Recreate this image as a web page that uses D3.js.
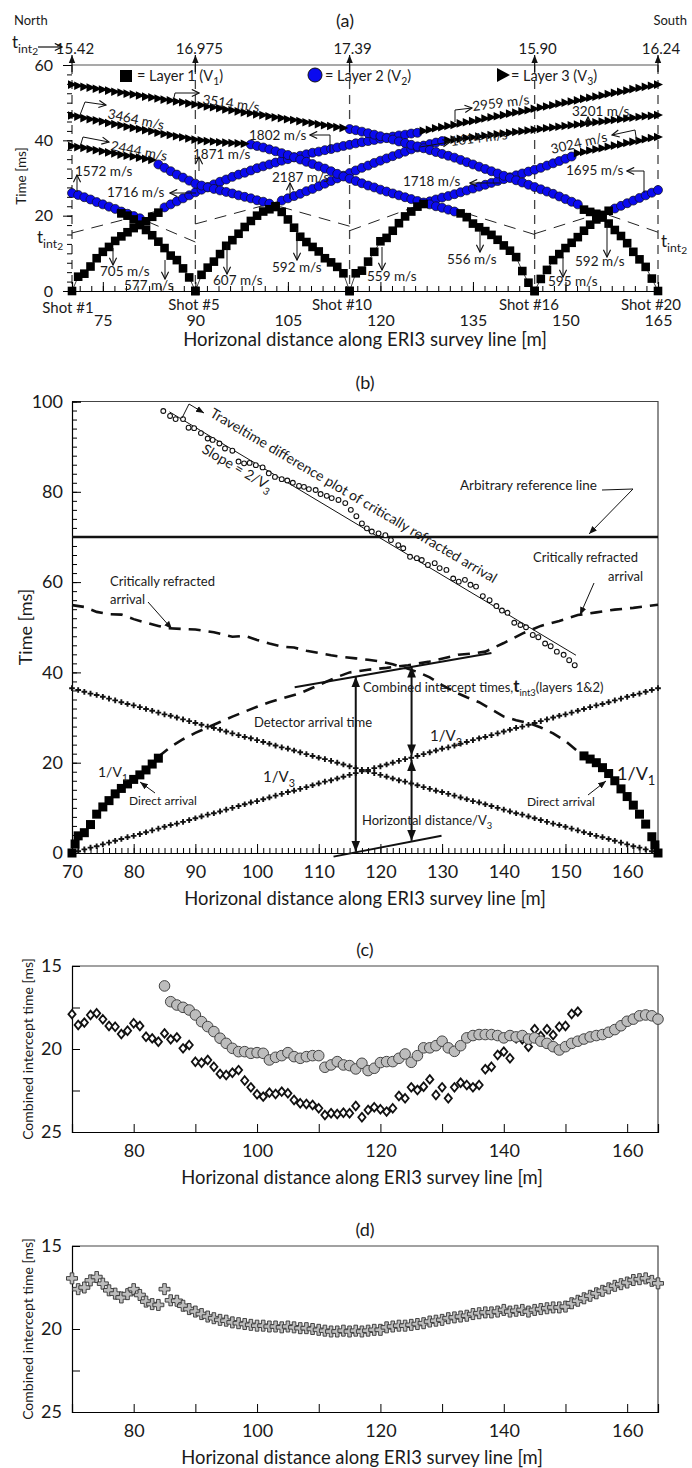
<!DOCTYPE html>
<html><head><meta charset="utf-8">
<script src="https://cdn.jsdelivr.net/npm/d3@7/dist/d3.min.js"></script>
<style>
html,body{margin:0;padding:0;background:#fff;}
svg{display:block;}
text{font-family:Lato,"Open Sans","Noto Sans",sans-serif;fill:#1a1a1a;}
</style></head><body>
<svg id="chart" width="692" height="1468"></svg>
<script>
// receiver stations are 1 m apart
const stations = (x0, ts) => ts.map((t, i) => [x0 + i, t]);

// ================= Panel (a) data =================
const aShots = [70, 90, 115, 145, 165];
const aShotNames = ["Shot #1", "Shot #5", "Shot #10", "Shot #16", "Shot #20"];
const aTint2 = ["15.42", "16.975", "17.39", "15.90", "16.24"];
const aXTicks = [75, 90, 105, 120, 135, 150, 165];
const aYTicks = [0, 20, 40, 60];

// Layer 1 (direct arrivals, squares)
const aL1_s1R  = stations(70,  [0,3.8,4.6,6.5,8.7,10.4,11.7,13.3,14.5,15.6,16.7,17.6,18.5,19.7,20.8]);
const aL1_s5L  = stations(78,  [20.6,20.0,19.0,17.5,16.2,14.8,13.1,11.4,9.4,8.2,6.0,3.6,0]);
const aL1_s5R  = stations(90,  [0,4.3,6.2,7.8,9.8,12.0,13.5,15.2,17.0,18.6,20.0,21.1,21.7,22.3]);
const aL1_s10L = stations(103, [22.5,21.0,19.0,16.8,14.4,13.0,11.7,10.5,8.7,7.6,6.4,4.7,0]);
const aL1_s10R = stations(115, [0,4.7,5.4,7.8,10.4,13.2,14.1,16.0,18.0,19.8,21.1,22.4,23.1]);
const aL1_s16L = stations(133, [20.6,19.6,17.9,16.9,15.9,14.9,13.6,12.1,10.7,9.0,5.3,2.2,0]);
const aL1_s16R = stations(145, [0,3.2,5.6,8.2,9.8,11.4,12.8,14.3,16.0,17.6,19.0,20.2,21.3]);
const aL1_s20L = stations(153, [21.6,21.0,20.5,19.5,17.9,16.2,14.6,12.7,10.4,8.4,6.4,3.3,0]);

// Layer 2 (blue circles)
const aL2_s1R  = stations(85,  [22.2,23.0,23.8,24.6,25.4,26.2,26.9,27.6,28.3,29.0,29.6,30.3,30.9,31.4,32.0,32.6,33.1,33.6,34.1,34.6,35.0,35.5,35.9,36.3,36.7,37.0,37.4,37.7,38.1,38.5,38.8,39.2,39.5,39.8,40.1,40.4,40.7,41.0,41.3,41.5,41.8,42.0]);
const aL2_s5L  = stations(70,  [26.0,25.5,24.9,24.3,23.6,23.0,22.4,21.8,21.1,20.5,19.9,19.3]);
const aL2_s5R  = stations(104, [24.0,24.6,25.2,25.8,26.5,27.1,27.8,28.5,29.2,29.9,30.6,31.3,32.0,32.7,33.3,34.0,34.6,35.2,35.8,36.4,37.0,37.6,38.1,38.6,39.0,39.4,39.8]);
const aL2_s10L = stations(84,  [33.6,32.7,31.8,30.9,30.1,29.3,28.5,28.0,27.5,27.1,26.7,26.3,25.9,25.4,25.0,24.6,24.1,23.7,23.2]);
const aL2_s10R = stations(128, [23.8,24.3,24.8,25.2,25.7,26.2,26.7,27.2,27.7,28.2,28.7,29.2,29.7,30.2,30.7,31.2,31.7,32.2,32.7,33.3,33.9,34.5,35.1,35.7]);
const aL2_s16L = stations(99,  [38.9,38.5,38.1,37.6,37.1,36.6,36.1,35.5,34.9,34.3,33.7,33.1,32.5,31.8,31.1,30.4,29.8,29.2,28.6,28.0,27.5,26.9,26.4,25.9,25.4,24.9,24.4,23.9,23.5,23.0,22.5,22.1,21.6,21.1]);
const aL2_s16R = stations(158, [21.9,22.6,23.3,24.0,24.7,25.4,26.1,26.8]);
const aL2_s20L = stations(115, [43.0,42.7,42.3,41.9,41.5,41.1,40.6,40.2,39.7,39.3,38.8,38.4,37.9,37.4,36.9,36.4,35.9,35.4,34.8,34.2,33.6,33.0,32.4,31.8,31.2,30.6,30.0,29.4,28.8,28.2,27.6,27.0,26.4,25.8,25.1,24.4,23.7,23.0]);

// Layer 3 (triangles)
const aL3_s1R  = stations(127, [42.5,42.8,43.2,43.5,43.8,44.1,44.5,44.8,45.1,45.4,45.8,46.1,46.4,46.7,47.1,47.4,47.7,48.0,48.4,48.7,49.0,49.3,49.7,50.0,50.3,50.6,51.0,51.3,51.6,51.9,52.3,52.6,52.9,53.2,53.6,53.9,54.2,54.5,54.8]);
const aL3_s5R  = stations(131, [40.0,40.2,40.4,40.6,40.8,41.0,41.2,41.4,41.6,41.8,42.0,42.2,42.4,42.6,42.8,43.0,43.2,43.4,43.6,43.8,44.0,44.2,44.4,44.6,44.8,45.0,45.2,45.4,45.6,45.8,46.0,46.2,46.4,46.5,46.7]);
const aL3_s10R = stations(152, [36.6,36.9,37.3,37.6,37.9,38.3,38.6,38.9,39.3,39.6,39.9,40.3,40.6,40.9]);
const aL3_s10L = stations(70,  [38.5,38.2,38.0,37.7,37.4,37.1,36.8,36.5,36.2,35.9,35.7,35.4,35.1,34.8]);
const aL3_s16L = stations(70,  [46.6,46.3,45.9,45.6,45.3,45.0,44.6,44.3,44.0,43.6,43.3,43.0,42.7,42.4,42.0,41.7,41.4,41.1,40.8,40.5,40.2,40.0,39.8,39.7,39.5,39.4,39.3,39.2,39.1]);
const aL3_s20L = stations(70,  [54.8,54.5,54.2,54.0,53.7,53.5,53.2,52.9,52.7,52.4,52.2,51.9,51.6,51.4,51.1,50.8,50.6,50.3,50.1,49.8,49.5,49.3,49.0,48.8,48.5,48.2,48.0,47.7,47.4,47.2,46.9,46.7,46.4,46.1,45.9,45.6,45.4,45.1,44.8,44.6,44.3,44.0,43.8,43.5,43.3]);

// t_int2 extrapolation lines (dashed)
const aTintLines = [
  [[70,15.4],[84,21.3]], [[90,13.0],[81,19.3]], [[90,17.8],[104,24.0]], [[115,17.2],[102,23.2]],
  [[115,16.0],[128,23.8]], [[145,15.0],[132,21.6]], [[145,15.2],[158,21.9]], [[165,15.6],[152,23.0]]
];

// ================= Panel (b) data =================
const bXTicks = [70, 80, 90, 100, 110, 120, 130, 140, 150, 160];
const bYTicks = [0, 20, 40, 60, 80, 100];
const bDirectL = [[70,0],[70.5,2.0],[71,3.8],[72,4.5],[73,6.3],[74,8.6],[75,10.2],[76,11.6],[77,13.1],[78,14.3],[79,15.3],[80,16.3],[81,17.3],[82,18.4],[83,19.7],[84,21.0]];
const bDirectR = [[153,21.5],[154,20.8],[155,20.0],[156,18.9],[157,17.6],[158,16.0],[159,14.2],[160,12.5],[161,10.6],[162,8.6],[163,6.4],[164,3.6],[164.5,1.8],[165,0]];
const bV3down = stations(70, [36.5,36.1,35.7,35.3,35.0,34.6,34.2,33.8,33.4,33.0,32.7,32.3,31.9,31.5,31.1,30.7,30.4,30.0,29.6,29.2,28.8,28.4,28.0,27.7,27.3,26.9,26.5,26.1,25.7,25.4,25.0,24.6,24.2,23.8,23.4,23.1,22.7,22.3,21.9,21.5,21.1,20.8,20.4,20.0,19.6,19.2,18.8,18.4,18.1,17.7,17.3,16.9,16.5,16.1,15.8,15.4,15.0,14.6,14.2,13.8,13.5,13.1,12.7,12.3,11.9,11.5,11.2,10.8,10.4,10.0,9.6,9.2,8.8,8.5,8.1,7.7,7.3,6.9,6.5,6.2,5.8,5.4,5.0,4.6,4.2,3.8,3.5,3.1,2.7,2.3,1.9,1.5,1.2,0.8,0.4,0.0]);
const bV3up = stations(70, [0.0,0.4,0.8,1.2,1.5,1.9,2.3,2.7,3.1,3.5,3.8,4.2,4.6,5.0,5.4,5.8,6.2,6.5,6.9,7.3,7.7,8.1,8.5,8.8,9.2,9.6,10.0,10.4,10.8,11.2,11.5,11.9,12.3,12.7,13.1,13.5,13.8,14.2,14.6,15.0,15.4,15.8,16.1,16.5,16.9,17.3,17.7,18.1,18.4,18.8,19.2,19.6,20.0,20.4,20.8,21.1,21.5,21.9,22.3,22.7,23.1,23.4,23.8,24.2,24.6,25.0,25.4,25.7,26.1,26.5,26.9,27.3,27.7,28.0,28.4,28.8,29.2,29.6,30.0,30.4,30.7,31.1,31.5,31.9,32.3,32.7,33.0,33.4,33.8,34.2,34.6,35.0,35.3,35.7,36.1,36.5]);
const bCritA = [[70,54.9],[72,54.5],[74,53.4],[76,52.9],[78,52.8],[80,51.8],[82,51.0],[84,50.3],[85.5,49.8],[88,49.6],[90,49.5],[93,48.9],[96,47.9],[98,48.1],[100,47.2],[102,46.4],[104,45.7],[106,45.5],[108,44.8],[110,44.3],[112,43.8],[114,43.4],[116,43.1],[118,42.8],[120,42.4],[122,41.8],[124,41.0],[126,40.1],[128,38.9],[130,37.2],[132,35.7],[134,34.5],[136,33.4],[138,31.8],[140,30.2],[142,29.4],[144,28.8],[146,27.8],[148,26.5],[150,24.8],[152,22.5],[153,21.5]];
const bCritB = [[84,21.3],[86,23.5],[88,25.2],[90,26.6],[92,27.8],[94,29.0],[96,30.2],[98,31.3],[100,32.4],[102,33.4],[104,34.2],[107,35.4],[110,37.2],[113,39.0],[115,40.0],[118,40.6],[121,41.0],[124.5,41.6],[128,42.4],[132.6,43.9],[135,44.2],[137,44.6],[140,46.5],[143,48.6],[146,50.3],[149,51.4],[152,52.7],[155,53.3],[158,53.9],[161,54.3],[165,55.0]];
const bDiff = [[84.8,97.9],[85.9,96.8],[86.8,96.1],[88.0,96.1],[88.9,94.2],[89.8,94.1],[90.9,93.0],[92.0,91.8],[92.8,91.5],[93.9,90.7],[94.8,89.6],[96.0,89.1],[97.0,86.7],[97.9,86.3],[98.8,86.4],[99.8,85.9],[100.9,85.4],[101.9,84.1],[102.9,83.3],[104.0,82.8],[104.9,82.5],[105.8,82.0],[106.8,81.3],[107.6,81.1],[108.4,80.6],[109.5,80.4],[110.3,79.5],[111.3,79.1],[112.1,78.6],[113.2,78.2],[114.3,77.5],[115.2,76.0],[116.1,74.6],[117.0,73.0],[117.8,71.9],[118.6,71.2],[119.7,70.8],[120.8,70.4],[121.7,69.3],[122.9,68.2],[123.7,67.5],[124.8,65.6],[125.9,65.3],[126.7,64.9],[127.7,63.8],[128.8,64.2],[129.6,63.1],[130.7,62.7],[131.8,60.8],[132.7,60.1],[133.7,60.5],[134.6,59.4],[135.5,59.0],[136.6,56.9],[137.7,56.0],[138.8,54.7],[139.7,53.7],[140.6,53.2],[141.7,51.0],[142.7,50.5],[143.6,50.0],[144.7,48.3],[145.6,47.8],[146.7,46.4],[147.6,45.8],[148.6,44.6],[149.7,43.9],[150.6,42.7],[151.5,41.6]];
const bDiffFit = [[85.8,97.7],[151.7,43.8]];
const bRefLine = [[70,70],[165,70]];
const bTangentTop = [[106.1,36.7],[138.0,44.3]];
const bTangentBot = [[112.4,-0.8],[129.9,3.8]];

// ================= Panel (c) data =================
const cXTicks = [80, 100, 120, 140, 160];
const cYTicks = [15, 20, 25];
const cCircles = stations(85, [16.2,17.15,17.35,17.49,17.65,17.95,18.35,18.65,18.95,19.35,19.66,19.96,20.16,20.16,20.26,20.22,20.26,20.66,20.5,20.4,20.22,20.46,20.56,20.46,20.4,20.4,21.1,20.96,20.76,20.96,21.0,21.2,20.86,21.3,21.16,20.82,20.76,20.76,20.56,20.3,20.8,20.4,19.93,19.93,19.8,19.53,19.93,20.14,19.8,19.33,19.19,19.13,19.13,19.13,19.19,19.33,19.19,19.27,19.19,19.4,19.33,19.53,19.66,19.86,20.06,19.86,19.66,19.53,19.4,19.27,19.19,19.13,18.99,18.83,18.6,18.33,18.2,18.0,17.95,18.0,18.2]);
const cDiamonds = stations(70, [17.9,18.55,18.41,17.95,17.85,18.21,18.61,18.66,19.1,18.9,18.45,18.61,19.26,19.36,19.56,19.06,19.42,19.3,19.96,19.76,20.77,20.83,20.66,21.07,21.5,21.57,21.43,21.27,21.9,22.31,22.73,22.87,22.63,22.71,22.57,22.67,23.07,23.27,23.31,23.37,23.57,23.98,23.87,23.92,23.84,23.87,23.43,24.11,23.67,23.51,23.63,23.77,23.57,22.83,22.97,22.31,22.47,22.27,21.83,22.77,22.31,22.97,22.31,22.03,22.17,22.31,22.17,21.22,21.07,20.36,20.16,20.56,19.36,19.42,19.86,18.81,19.22,18.81,19.16,18.66,18.61,17.89,17.75]);

// ================= Panel (d) data =================
const dCrosses = stations(70, [16.95,17.6,17.5,17.07,16.87,17.27,17.67,17.87,18.1,17.9,17.6,17.95,18.35,18.5,18.55,17.6,18.27,18.3,18.6,18.8,18.95,19.1,19.25,19.35,19.45,19.5,19.6,19.65,19.7,19.75,19.8,19.8,19.85,19.85,19.9,19.85,19.9,19.95,19.95,20.0,20.05,20.1,20.15,20.15,20.1,20.15,20.1,20.15,20.1,20.05,20.05,19.9,19.85,19.8,19.8,19.75,19.7,19.65,19.55,19.5,19.45,19.35,19.3,19.25,19.2,19.1,19.05,19.0,19.0,18.95,18.85,18.95,18.9,18.85,18.95,18.85,18.8,18.75,18.7,18.7,18.65,18.45,18.3,18.15,18.0,17.85,17.7,17.55,17.4,17.3,17.2,17.05,17.0,16.95,17.1,17.25]);

// ================= helpers =================
const svg = d3.select('#chart');
const defs = svg.append('defs');
function marker(id, size, open) {
  const m = defs.append('marker').attr('id', id).attr('viewBox', '0 0 10 10')
    .attr('refX', open ? 9 : 10).attr('refY', 5).attr('markerWidth', size).attr('markerHeight', size)
    .attr('markerUnits', 'userSpaceOnUse').attr('orient', 'auto-start-reverse');
  if (open) m.append('path').attr('d', 'M1,1L9,5L1,9').attr('fill', 'none').attr('stroke', '#111').attr('stroke-width', 1.3);
  else m.append('path').attr('d', 'M0,1L10,5L0,9z').attr('fill', '#111');
}
marker('open', 9, true); marker('fill', 8, false); marker('big', 11, false);

function path(g, pts, o = {}) {
  const p = g.append('path').attr('d', d3.line()(pts)).attr('fill', 'none')
    .attr('stroke', o.color || '#111').attr('stroke-width', o.w || 1);
  if (o.dash) p.attr('stroke-dasharray', o.dash);
  if (o.end) p.attr('marker-end', `url(#${o.end})`);
  if (o.start) p.attr('marker-start', `url(#${o.start})`);
  return p;
}
function label(g, x, y, parts, size, o = {}) {
  const t = g.append('text').attr('font-size', size);
  if (o.transform) t.attr('transform', o.transform); else t.attr('x', x).attr('y', y);
  if (o.anchor) t.attr('text-anchor', o.anchor);
  let shift = 0;
  parts.forEach(p => {
    const [s, k] = Array.isArray(p) ? p : [p];
    const ts = t.append('tspan').text(s);
    if (k === 'sub') { const d = size * 0.3; ts.attr('font-size', size * 0.72).attr('dy', d - shift); shift = d; }
    else if (k === 'sub2') { const d = size * 0.42; ts.attr('font-size', size * 0.6).attr('dy', d - shift); shift = d; }
    else {
      if (shift) { ts.attr('dy', -shift); shift = 0; }
      if (k === 'bold') ts.attr('font-weight', 'bold').attr('font-size', size * 1.3);
    }
  });
  return t;
}
function fitWidth(sel, w) {
  const L = sel.node().getComputedTextLength();
  if (L > 0) sel.attr('font-size', parseFloat(sel.attr('font-size')) * w / L);
}
const XTITLE = 'Horizonal distance along ERI3 survey line [m]';

// ================= Panel (a) =================
const xA = d3.scaleLinear().domain([70, 165]).range([72, 658]);
const yA = d3.scaleLinear().domain([0, 60]).range([291, 65]);
const gA = svg.append('g');

label(gA, 14, 25, ['North'], 13);
label(gA, 687, 25, ['South'], 13, {anchor: 'end'});
label(gA, 345, 27, ['(a)'], 18, {anchor: 'middle'});

// vertical dashed shot lines
aShots.forEach(s => path(gA, [[xA(s), yA(60)], [xA(s), yA(0)]], {dash: '9,6', w: 1.3, color: '#444'}));
path(gA, [[xA(70), yA(60)], [xA(165), yA(60)]], {w: 1.2, color: '#555'});

// left axis ticks + labels
const aYax = gA.append('g').attr('transform', `translate(${xA(70)},0)`)
  .call(d3.axisLeft(yA).tickValues(aYTicks).tickSize(9).tickPadding(10));
aYax.select('.domain').remove();
aYax.selectAll('text').attr('font-size', 16);
const aYmin = gA.append('g').attr('transform', `translate(${xA(70)},0)`)
  .call(d3.axisLeft(yA).tickValues(d3.range(0, 60.1, 2.5)).tickSize(5).tickFormat(''));
aYmin.select('.domain').remove();

// bottom axis
const aXax = gA.append('g').attr('transform', `translate(0,${yA(0)})`)
  .call(d3.axisBottom(xA).tickValues(aXTicks).tickSize(-9).tickPadding(24));
aXax.selectAll('text').attr('font-size', 16);
aXax.select('.domain').attr('stroke-width', 1.2);
gA.append('g').attr('transform', `translate(0,${yA(0)})`)
  .call(d3.axisBottom(xA).tickValues(d3.range(71.25, 165, 1.875)).tickSize(-5).tickFormat(''))
  .select('.domain').remove();

// shot labels
const shotLX = [68, 194, 342, 529, 651];
aShotNames.forEach((n, i) => label(gA, shotLX[i], i === 0 ? 312.5 : 310, [n], 15, {anchor: 'middle'}));
fitWidth(label(gA, 365, 346, [XTITLE], 17, {anchor: 'middle'}), 364);
label(gA, 0, 0, ['Time [ms]'], 13.5, {anchor: 'middle', transform: 'translate(26,176) rotate(-90)'});

// top t_int2 arrows and values
aShots.forEach((s, i) => {
  path(gA, [[xA(s), 72], [xA(s), 55]], {end: 'fill', w: 1.2});
  label(gA, xA(s) + (i === 1 ? 4 : 3), 54, [aTint2[i]], 15, {anchor: 'middle'});
});
label(gA, 12, 48, [['t'], ['int', 'sub'], ['2', 'sub2']], 17);
path(gA, [[38, 47], [62, 47]], {end: 'open', w: 1.2});

// t_int2 dashed lines
aTintLines.forEach(l => path(gA, l.map(d => [xA(d[0]), yA(d[1])]), {dash: '12,8', w: 1, color: '#222'}));
label(gA, 37, 243, [['t'], ['int', 'sub'], ['2', 'sub2']], 17);
label(gA, 661, 247, [['t'], ['int', 'sub'], ['2', 'sub2']], 17);

// series
const aLine = d3.line().x(d => xA(d[0])).y(d => yA(d[1]));
const L2segs = [aL2_s1R, aL2_s5L, aL2_s5R, aL2_s10L, aL2_s10R, aL2_s16L, aL2_s16R, aL2_s20L];
const L3segs = [aL3_s1R, aL3_s5R, aL3_s10R, aL3_s10L, aL3_s16L, aL3_s20L];
const L1segs = [aL1_s1R, aL1_s5L, aL1_s5R, aL1_s10L, aL1_s10R, aL1_s16L, aL1_s16R, aL1_s20L];
[...L2segs, ...L3segs, ...L1segs].forEach(s => gA.append('path').attr('d', aLine(s)).attr('fill', 'none').attr('stroke', '#111').attr('stroke-width', 0.8));
L2segs.forEach(s => gA.append('g').selectAll('circle').data(s).join('circle')
  .attr('cx', d => xA(d[0])).attr('cy', d => yA(d[1])).attr('r', 4.5)
  .attr('fill', '#0a0af0').attr('stroke', '#111').attr('stroke-width', 0.7));
L3segs.forEach(s => gA.append('g').selectAll('path').data(s).join('path')
  .attr('transform', d => `translate(${xA(d[0])},${yA(d[1])})`).attr('d', 'M-4,-4.3L5,0L-4,4.3Z').attr('fill', '#000'));
L1segs.forEach(s => gA.append('g').selectAll('rect').data(s).join('rect')
  .attr('x', d => xA(d[0]) - 4.3).attr('y', d => yA(d[1]) - 4.3).attr('width', 8.6).attr('height', 8.6).attr('fill', '#000'));

// legend
gA.append('rect').attr('x', 120).attr('y', 70).attr('width', 12).attr('height', 12).attr('fill', '#000');
label(gA, 137, 81, ['= Layer 1 (V', ['1', 'sub'], ')'], 14.5);
gA.append('circle').attr('cx', 315).attr('cy', 75).attr('r', 7).attr('fill', '#0a0af0').attr('stroke', '#111');
label(gA, 325, 81, ['= Layer 2 (V', ['2', 'sub'], ')'], 14.5);
gA.append('path').attr('d', 'M497,68L510,75L497,82Z').attr('fill', '#000');
label(gA, 511, 81, ['= Layer 3 (V', ['3', 'sub'], ')'], 14.5);

// velocity annotations
const vs = 13.5;
label(gA, 0, 0, ['3514 m/s'], vs, {transform: 'translate(202,104) rotate(8)'});
path(gA, [[173, 102], [175, 93], [199, 93]], {end: 'open'});
label(gA, 0, 0, ['3464 m/s'], vs, {transform: 'translate(107,118) rotate(12)'});
path(gA, [[80, 115], [85, 102], [106, 105]], {end: 'open'});
label(gA, 0, 0, ['2444 m/s'], vs, {transform: 'translate(110,150) rotate(11)'});
path(gA, [[80, 147], [83, 137], [109, 142]], {end: 'open'});
label(gA, 249, 140, ['1802 m/s'], vs);
path(gA, [[330, 152], [330, 135], [310, 135]], {end: 'open'});
label(gA, 193, 159, ['1871 m/s'], vs);
path(gA, [[199, 171], [199, 157]], {end: 'open'});
label(gA, 75, 176, ['1572 m/s'], vs);
path(gA, [[77, 192], [77, 175]], {end: 'open'});
label(gA, 107, 197, ['1716 m/s'], vs);
path(gA, [[196, 193], [170, 193]], {end: 'open'});
label(gA, 272, 182, ['2187 m/s'], vs);
path(gA, [[290, 199], [290, 183]], {end: 'open'});
label(gA, 100, 276, ['705 m/s'], vs);
path(gA, [[113, 248], [113, 265]], {end: 'open'});
label(gA, 124, 290, ['577 m/s'], vs);
path(gA, [[165, 260], [165, 279]], {end: 'open'});
label(gA, 213, 285, ['607 m/s'], vs);
path(gA, [[227, 243], [227, 274]], {end: 'open'});
label(gA, 272, 272, ['592 m/s'], vs);
path(gA, [[297, 228], [297, 260]], {end: 'open'});
label(gA, 367, 281, ['559 m/s'], vs);
path(gA, [[382, 247], [382, 270]], {end: 'open'});
label(gA, 447, 264, ['556 m/s'], vs);
path(gA, [[480, 230], [480, 252]], {end: 'open'});
label(gA, 548, 286, ['595 m/s'], vs);
path(gA, [[563, 257], [563, 277]], {end: 'open'});
label(gA, 575, 266, ['592 m/s'], vs);
path(gA, [[607, 223], [607, 257]], {end: 'open'});
label(gA, 403, 186, ['1718 m/s'], vs);
path(gA, [[500, 183], [470, 183]], {end: 'open'});
label(gA, 566, 175, ['1695 m/s'], vs);
path(gA, [[644, 193], [644, 171], [627, 171]], {end: 'open'});
label(gA, 0, 0, ['2959 m/s'], vs, {transform: 'translate(473,111) rotate(-7)'});
path(gA, [[455, 122], [455, 110], [472, 108]], {end: 'open'});
label(gA, 0, 0, ['1614 m/s'], vs, {transform: 'translate(451,146) rotate(-7)'});
path(gA, [[420, 147], [450, 142]], {end: 'open'});
label(gA, 572, 116, ['3201 m/s'], vs);
path(gA, [[588, 127], [588, 117]], {end: 'open'});
label(gA, 0, 0, ['3024 m/s'], vs, {transform: 'translate(552,154) rotate(-13)'});
path(gA, [[637, 143], [635, 130], [612, 135]], {end: 'open'});

// ================= Panel (b) =================
const xB = d3.scaleLinear().domain([70, 165]).range([72, 658]);
const yB = d3.scaleLinear().domain([0, 100]).range([853, 401.5]);
const gB = svg.append('g');
label(gB, 365, 389, ['(b)'], 18, {anchor: 'middle'});
path(gB, [[xB(70), yB(100)], [xB(165), yB(100)], [xB(165), yB(0)]], {w: 1.2, color: '#444'});
const bYax = gB.append('g').attr('transform', `translate(${xB(70)},0)`)
  .call(d3.axisLeft(yB).tickValues(bYTicks).tickSize(-9).tickPadding(9));
bYax.selectAll('text').attr('font-size', 18);
bYax.select('.domain').attr('stroke-width', 1.2);
gB.append('g').attr('transform', `translate(${xB(70)},0)`)
  .call(d3.axisLeft(yB).tickValues(d3.range(0, 100.1, 2)).tickSize(-5).tickFormat('')).select('.domain').remove();
const bXax = gB.append('g').attr('transform', `translate(0,${yB(0)})`)
  .call(d3.axisBottom(xB).tickValues(bXTicks).tickSize(-9).tickPadding(12));
bXax.selectAll('text').attr('font-size', 18);
bXax.select('.domain').attr('stroke-width', 1.2);
gB.append('g').attr('transform', `translate(0,${yB(0)})`)
  .call(d3.axisBottom(xB).tickValues(d3.range(70, 165.1, 1)).tickSize(-5).tickFormat('')).select('.domain').remove();
fitWidth(label(gB, 365, 905, [XTITLE], 17, {anchor: 'middle'}), 362);
label(gB, 0, 0, ['Time [ms]'], 18, {anchor: 'middle', transform: 'translate(32,627) rotate(-90)'});

const bLine = d3.line().x(d => xB(d[0])).y(d => yB(d[1]));
gB.append('path').attr('d', bLine(bRefLine)).attr('stroke', '#111').attr('stroke-width', 2.6).attr('fill', 'none');
gB.append('path').attr('d', bLine(bDiffFit)).attr('stroke', '#111').attr('stroke-width', 1).attr('fill', 'none');
gB.append('g').selectAll('circle').data(bDiff).join('circle')
  .attr('cx', d => xB(d[0])).attr('cy', d => yB(d[1])).attr('r', 2.4)
  .attr('fill', '#fff').attr('stroke', '#111').attr('stroke-width', 1.1);
[bCritA, bCritB].forEach(c => gB.append('path').attr('d', bLine(c)).attr('fill', 'none')
  .attr('stroke', '#111').attr('stroke-width', 2.6).attr('stroke-dasharray', '12,8'));
[bV3down, bV3up].forEach(s => gB.append('g').selectAll('path').data(s).join('path')
  .attr('transform', d => `translate(${xB(d[0])},${yB(d[1])})`)
  .attr('d', d3.symbol(d3.symbolCross, 18)()).attr('fill', '#111'));
[bDirectL, bDirectR].forEach(s => gB.append('g').selectAll('rect').data(s).join('rect')
  .attr('x', d => xB(d[0]) - 4.5).attr('y', d => yB(d[1]) - 4.5).attr('width', 9).attr('height', 9).attr('fill', '#000'));
gB.append('path').attr('d', bLine(bTangentTop)).attr('stroke', '#111').attr('stroke-width', 2).attr('fill', 'none');
gB.append('path').attr('d', bLine(bTangentBot)).attr('stroke', '#111').attr('stroke-width', 2).attr('fill', 'none');

// vertical measurement arrows
const arrX1 = 116.0, arrX2 = 125.05;
path(gB, [[xB(arrX1), yB(39.1)], [xB(arrX1), yB(0.3)]], {w: 2, start: 'big', end: 'big'});
path(gB, [[xB(arrX2), yB(41.3)], [xB(arrX2), yB(21.6)]], {w: 2, start: 'big', end: 'big'});
path(gB, [[xB(arrX2), yB(20.6)], [xB(arrX2), yB(2.7)]], {w: 2, start: 'big', end: 'big'});

// texts (b)
const tt = label(gB, 0, 0, ['Traveltime difference plot of critically refracted arrival'], 14, {transform: 'translate(209,416) rotate(30.5)'});
tt.attr('textLength', 330).attr('lengthAdjust', 'spacingAndGlyphs');
label(gB, 0, 0, ['Slope = 2/V', ['3', 'sub']], 14, {transform: 'translate(201,452) rotate(30.5)'});
path(gB, [[182, 418], [189, 404], [204, 413]], {end: 'fill'});
label(gB, 460, 490, ['Arbitrary reference line'], 13.5);
path(gB, [[602, 490], [633, 489], [589, 534]], {end: 'fill'});
label(gB, 110, 586, ['Critically refracted'], 13);
label(gB, 110, 604, ['arrival'], 13);
path(gB, [[148, 602], [172, 629]], {end: 'fill'});
label(gB, 533, 562, ['Critically refracted'], 13);
label(gB, 608, 581, ['arrival'], 13);
path(gB, [[594, 583], [580, 615]], {end: 'fill'});
label(gB, 254, 727, ['Detector arrival time'], 13);
label(gB, 363, 692, ['Combined intercept times,', ['t', 'bold'], ['int3', 'sub'], '(layers 1&2)'], 13);
label(gB, 362, 825, ['Horizontal distance/V', ['3', 'sub']], 13);
label(gB, 98, 777, ['1/V', ['1', 'sub']], 14);
label(gB, 129, 805, ['Direct arrival'], 12);
path(gB, [[155, 793], [140, 782]], {end: 'fill'});
label(gB, 263, 782, ['1/V', ['3', 'sub']], 15);
label(gB, 430, 741, ['1/V', ['3', 'sub']], 15);
label(gB, 617, 780, ['1/V', ['1', 'sub']], 18);
label(gB, 527, 806, ['Direct arrival'], 12);
path(gB, [[588, 795], [606, 781]], {end: 'fill'});

// ================= Panels (c) & (d) =================
function interceptPanel(top, bottom, title) {
  const x = d3.scaleLinear().domain([70, 165]).range([72, 658]);
  const y = d3.scaleLinear().domain([15, 25]).range([top, bottom]);
  const g = svg.append('g');
  label(g, 365, top - 10, [title], 18, {anchor: 'middle'});
  path(g, [[x(70), y(15)], [x(165), y(15)], [x(165), y(25)]], {w: 1.2, color: '#444'});
  const ya = g.append('g').attr('transform', `translate(${x(70)},0)`)
    .call(d3.axisLeft(y).tickValues(cYTicks).tickSize(-8).tickPadding(10));
  ya.selectAll('text').attr('font-size', 18);
  ya.select('.domain').attr('stroke-width', 1.2);
  g.append('g').attr('transform', `translate(${x(70)},0)`)
    .call(d3.axisLeft(y).tickValues([17.5, 22.5]).tickSize(-8).tickFormat('')).select('.domain').remove();
  const xa = g.append('g').attr('transform', `translate(0,${y(25)})`)
    .call(d3.axisBottom(x).tickValues(cXTicks).tickSize(-8).tickPadding(12));
  xa.selectAll('text').attr('font-size', 18);
  xa.select('.domain').attr('stroke-width', 1.2);
  g.append('g').attr('transform', `translate(0,${y(25)})`)
    .call(d3.axisBottom(x).tickValues([90, 110, 130, 150]).tickSize(-8).tickFormat('')).select('.domain').remove();
  fitWidth(label(g, 362, bottom + 52, [XTITLE], 17, {anchor: 'middle'}), 362);
  fitWidth(label(g, 0, 0, ['Combined intercept time [ms]'], 16, {anchor: 'middle', transform: `translate(33,${(top + bottom) / 2}) rotate(-90)`}), 182);
  return {x, y, g};
}
const C = interceptPanel(966, 1132, '(c)');
C.g.append('g').selectAll('path').data(cDiamonds).join('path')
  .attr('transform', d => `translate(${C.x(d[0])},${C.y(d[1])})`)
  .attr('d', 'M0,-4.3L3.6,0L0,4.3L-3.6,0Z').attr('fill', '#fff').attr('stroke', '#111').attr('stroke-width', 1.8);
C.g.append('g').selectAll('circle').data(cCircles).join('circle')
  .attr('cx', d => C.x(d[0])).attr('cy', d => C.y(d[1])).attr('r', 5.3)
  .attr('fill', '#bdbdbd').attr('stroke', '#444').attr('stroke-width', 1);

const D = interceptPanel(1246, 1412, '(d)');
D.g.append('g').selectAll('path').data(dCrosses).join('path')
  .attr('transform', d => `translate(${D.x(d[0])},${D.y(d[1])})`)
  .attr('d', 'M-1.8,-5.5H1.8V-1.8H5.5V1.8H1.8V5.5H-1.8V1.8H-5.5V-1.8H-1.8Z')
  .attr('fill', '#bdbdbd').attr('stroke', '#333').attr('stroke-width', 0.9);
</script></body></html>
